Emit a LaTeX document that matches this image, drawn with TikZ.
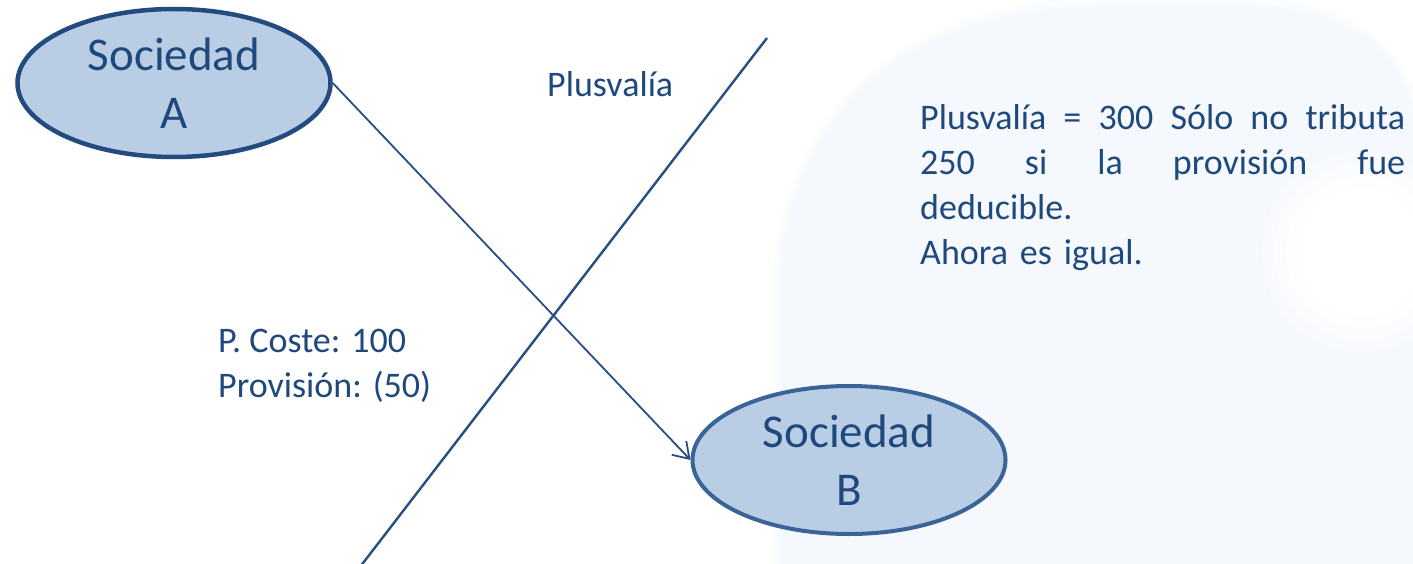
\documentclass[tikz,border=0pt]{standalone}
\usepackage{fontspec}
\setmainfont{Carlito}
\usetikzlibrary{shapes.geometric,arrows.meta}
\definecolor{txt}{HTML}{1F497D}
\definecolor{rimA}{HTML}{244B7F}
\definecolor{rimB}{HTML}{3A6398}
\definecolor{bubble}{HTML}{B9CDE5}
\definecolor{wire}{HTML}{284E82}
\definecolor{haze}{HTML}{F5F9FD}
\tikzset{
  soc/.style={ellipse, line width=4.5pt, fill=bubble, minimum width=313pt,
    minimum height=148pt, inner sep=0pt, align=center, text=txt,
    font=\fontsize{47}{58}\selectfont},
  label/.style={inner sep=0pt, text=txt, align=left,
    font=\fontsize{36}{45}\selectfont},
}
\begin{document}
\begin{tikzpicture}[x=1pt,y=-1pt]
  \useasboundingbox (0,0) rectangle (1413,564);
  \fill[white] (0,0) rectangle (1413,564);
  % pale backdrop panel on the right, with soft edges
  \foreach \g/\o in {10/0.35,4/0.55,0/1}{
    \fill[haze, opacity=\o]
      (782-\g,600) -- (782-\g,300)
      .. controls (782-\g,120) and (900,8-\g) .. (1100,8-\g)
      -- (1250,8-\g)
      .. controls (1360,8-\g) and (1413+\g,60) .. (1413+\g,140)
      -- (1413+\g,600) -- cycle;
  }
  % brighter spot near the right edge
  \foreach \r/\o in {100/0.3,88/0.45,76/0.7,64/1}{
    \fill[white, opacity=\o] (1362,252) circle (\r);
  }
  % the two companies
  \node[soc, draw=rimA] (A) at (174,83) {Sociedad\\A};
  \node[soc, draw=rimB, line width=4pt] (B) at (849,460) {Sociedad\\B};
  % transfer between them
  \draw[wire, line width=1.8pt, -{Straight Barb[length=15pt,width=20pt,line width=1.8pt]}]
    (A.east) -- (B.west);
  % dividing line
  \coordinate (d1) at (767,38);
  \coordinate (d2) at (360,567);
  \draw[wire, line width=2.4pt] (d1) -- (d2);
  % texts
  \node[label, anchor=base west] (plus) at (547,97) {Plusvalía};
  \node[label, anchor=north west] (coste) at (218,329) {P. Coste: 100\\Provisión: (50)};
  \node[label, anchor=north west, text width=485pt] (nota) at (920,104) {%
    \makebox[485pt][l]{Plusvalía\hfill=\hfill300\hfill Sólo\hfill no\hfill tributa}\\
    \makebox[485pt][l]{250\hfill si\hfill la\hfill provisión\hfill fue}\\
    deducible.\\
    Ahora es igual.};
\end{tikzpicture}
\end{document}
